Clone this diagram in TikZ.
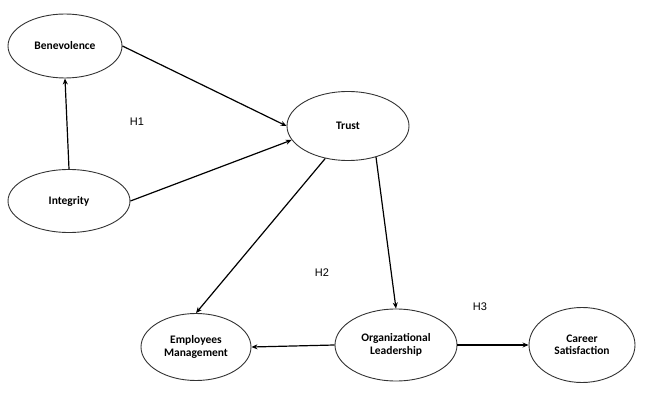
\documentclass[tikz,border=0pt]{standalone}
\usepackage{fontspec}
\setmainfont{Carlito}
\newfontfamily\hfont{Liberation Sans}
\usepackage{xcolor}
\usepackage{tikz}
\usetikzlibrary{shapes.geometric,arrows.meta}

\begin{document}
\begin{tikzpicture}[x=1pt, y=-1pt,
    construct/.style={ellipse, draw=black!80, line width=0.9pt, inner sep=0pt, align=center,
        font=\fontsize{11.5}{12.5}\selectfont\bfseries},
    path/.style={line width=1.2pt, -{Stealth[length=6pt,width=5pt]}},
    hyp/.style={font=\hfont\fontsize{11}{12}\selectfont}]
\useasboundingbox (0,0) rectangle (646,393);

% Constructs
\node[construct, minimum width=114, minimum height=64] (bene) at (65,46) {Benevolence};
\node[construct, minimum width=122, minimum height=63] (integ) at (69,201) {Integrity};
\node[construct, minimum width=122, minimum height=69] (trust) at (348,126) {Trust};
\node[construct, minimum width=110, minimum height=67] (emp) at (196,347) {Employees\\Management};
\node[construct, minimum width=122, minimum height=72] (org) at (396,345) {Organizational\\Leadership};
\node[construct, minimum width=106, minimum height=75] (career) at (582,345) {Career\\Satisfaction};

% Hypotheses
\node[hyp] (h1) at (137,122) {H1};
\node[hyp] (h2) at (322,273) {H2};
\node[hyp] (h3) at (480,307) {H3};

% Paths
\draw[path] (integ.north) -- (bene.south);
\draw[path] (bene.east) -- (trust.west);
\draw[path] (integ.east) -- (trust.194);
\draw[path] (trust.235) -- (emp.north);
\draw[path] (trust.312) -- (org.north);
\draw[path] (org.west) -- (emp.east);
\draw[path] (org.east) -- (career.west);

\end{tikzpicture}
\end{document}
